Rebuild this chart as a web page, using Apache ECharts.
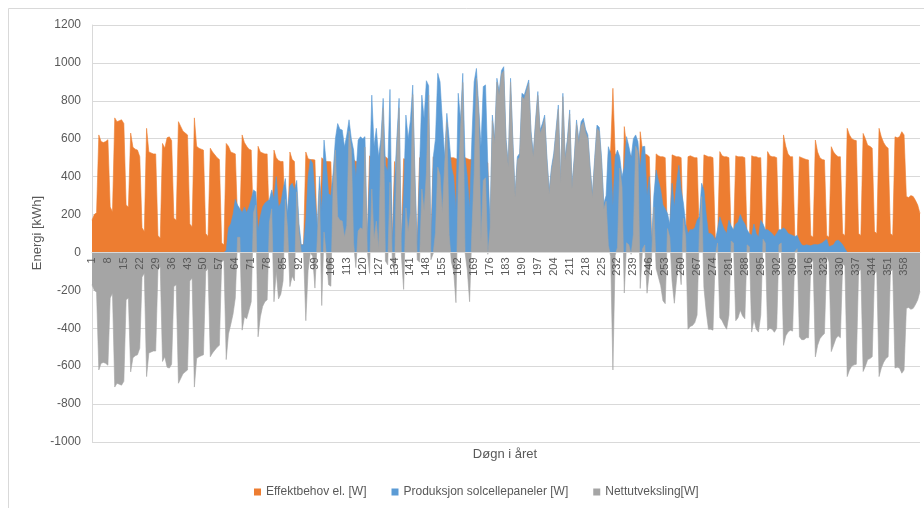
<!DOCTYPE html>
<html>
<head>
<meta charset="utf-8">
<script src="https://cdn.jsdelivr.net/npm/echarts@6/dist/echarts.min.js"></script>
<style>
  html, body { margin: 0; padding: 0; background: #ffffff; }
  #chart { width: 924px; height: 508px; }
</style>
</head>
<body>
<div id="chart"></div>
<script>
// Day of year, 1..365
const days = Array.from({ length: 365 }, (_, i) => String(i + 1));

// Daily electricity demand
const demand = [
  170, 200, 210, 620, 585, 580, 585, 595, 240, 215,
  710, 690, 695, 700, 680, 250, 240, 630, 555, 545,
  540, 505, 130, 110, 655, 530, 525, 520, 520, 90,
  75, 575, 550, 605, 610, 590, 180, 170, 690, 665,
  640, 630, 620, 150, 136, 710, 560, 550, 545, 540,
  100, 84, 550, 530, 515, 500, 490, 50, 40, 575,
  560, 530, 525, 520, 170, 150, 620, 580, 560, 545,
  540, 120, 70, 560, 530, 525, 520, 520, 120, 100,
  540, 500, 485, 480, 480, 110, 90, 530, 490, 480,
  60, 45, 40, 40, 530, 495, 490, 490, 488, 80,
  70, 500, 485, 480, 480, 478, 70, 60, 490, 480,
  480, 478, 478, 60, 55, 490, 480, 480, 480, 478,
  55, 50, 510, 495, 490, 490, 488, 55, 50, 505,
  495, 490, 60, 480, 50, 50, 60, 495, 490, 490,
  488, 50, 50, 60, 500, 495, 490, 490, 50, 48,
  505, 495, 495, 492, 490, 50, 48, 505, 500, 500,
  495, 490, 50, 48, 500, 495, 490, 490, 488, 50,
  48, 500, 495, 490, 470, 30, 30, 25, 20, 20,
  20, 22, 20, 18, 20, 22, 20, 18, 20, 20,
  22, 20, 18, 20, 20, 22, 20, 18, 20, 20,
  22, 20, 18, 20, 20, 22, 20, 18, 20, 20,
  22, 20, 18, 20, 20, 22, 20, 18, 20, 20,
  22, 20, 18, 20, 25, 30, 30, 520, 540, 866,
  520, 514, 60, 55, 664, 560, 520, 510, 505, 60,
  55, 637, 540, 520, 515, 505, 70, 60, 520, 510,
  505, 505, 500, 80, 70, 515, 510, 505, 505, 500,
  80, 70, 505, 510, 505, 500, 500, 80, 70, 515,
  510, 505, 505, 500, 80, 70, 532, 510, 505, 505,
  500, 80, 70, 510, 505, 505, 505, 500, 80, 70,
  510, 505, 505, 500, 500, 80, 70, 532, 510, 505,
  505, 500, 80, 70, 620, 560, 520, 505, 505, 80,
  70, 505, 500, 495, 490, 488, 90, 80, 593, 530,
  500, 490, 488, 90, 80, 558, 530, 515, 505, 505,
  100, 90, 655, 620, 600, 593, 590, 100, 90, 628,
  600, 565, 560, 550, 110, 100, 655, 610, 580, 560,
  550, 100, 90, 610, 605, 610, 637, 620, 295, 290,
  300, 295, 275, 250, 206
];

// Daily solar panel production
const production = [
  0, 0, 0, 0, 0, 0, 0, 0, 0, 0,
  0, 0, 0, 0, 0, 0, 0, 0, 0, 0,
  0, 0, 0, 0, 0, 0, 0, 0, 0, 0,
  0, 0, 0, 0, 0, 0, 0, 0, 0, 0,
  0, 0, 0, 0, 0, 0, 0, 0, 0, 0,
  0, 0, 0, 0, 0, 0, 0, 0, 0, 10,
  130, 150, 200, 280, 250, 230, 210, 240, 210, 240,
  280, 330, 320, 115, 190, 240, 260, 270, 280, 330,
  280, 400, 240, 260, 330, 390, 210, 350, 365, 330,
  380, 150, 40, 40, 170, 400, 490, 470, 300, 140,
  400, 220, 593, 470, 310, 300, 420, 600, 680, 650,
  646, 558, 620, 700, 600, 540, 400, 593, 610, 600,
  611, 66, 400, 830, 560, 655, 505, 600, 813, 460,
  430, 860, 30, 365, 600, 813, 48, 300, 725, 600,
  700, 883, 400, 20, 450, 830, 708, 906, 880, 10,
  500, 600, 945, 900, 700, 505, 734, 600, 450, 400,
  230, 840, 700, 945, 500, 400, 230, 600, 900, 971,
  770, 560, 875, 884, 460, 154, 725, 600, 919, 850,
  960, 980, 600, 470, 919, 600, 312, 505, 523, 840,
  830, 870, 910, 640, 523, 700, 849, 646, 680, 725,
  500, 330, 450, 523, 650, 778, 383, 840, 505, 600,
  752, 356, 500, 699, 594, 690, 708, 650, 620, 450,
  312, 500, 672, 660, 500, 259, 300, 558, 520, 246,
  505, 540, 505, 400, 450, 611, 560, 500, 600, 620,
  585, 447, 558, 560, 300, 400, 48, 300, 435, 380,
  330, 250, 230, 206, 150, 365, 242, 365, 460, 330,
  260, 150, 100, 120, 120, 130, 170, 188, 365, 330,
  200, 100, 100, 90, 65, 120, 188, 150, 120, 100,
  170, 140, 120, 150, 160, 200, 170, 150, 120, 100,
  90, 150, 100, 80, 170, 150, 120, 120, 110, 100,
  84, 100, 120, 120, 130, 120, 100, 95, 90, 84,
  90, 60, 40, 35, 40, 38, 35, 40, 42, 40,
  45, 50, 60, 70, 30, 35, 40, 60, 65, 55,
  40, 20, 0, 0, 0, 0, 0, 0, 0, 0,
  0, 0, 0, 0, 0, 0, 0, 0, 0, 0,
  0, 0, 0, 0, 0, 0, 0, 0, 0, 0,
  0, 0, 0, 0, 0
];

// Daily net grid exchange (production minus demand)
const netExchange = [
  -170, -200, -210, -620, -585, -580, -585, -595, -240, -215,
  -710, -690, -695, -700, -680, -250, -240, -630, -555, -545,
  -540, -505, -130, -110, -655, -530, -525, -520, -520, -90,
  -75, -575, -550, -605, -610, -590, -180, -170, -690, -665,
  -640, -630, -620, -150, -136, -710, -560, -550, -545, -540,
  -100, -84, -550, -530, -515, -500, -490, -50, -40, -565,
  -430, -380, -325, -240, 80, 80, -410, -340, -350, -305,
  -260, 210, 250, -445, -340, -285, -260, -250, 160, 230,
  -260, -100, -245, -220, -150, 280, 120, -180, -125, -150,
  320, 105, 0, 0, -360, -95, 0, -20, -188, 60,
  330, -280, 108, -10, -170, -178, 350, 540, 190, 170,
  166, 80, 142, 640, 545, 50, -80, 113, 130, 122,
  556, 16, -110, 335, 70, 165, 17, 545, 763, -45,
  -65, 370, -30, -115, 550, 763, -12, -195, 235, 110,
  212, 833, 350, -40, -50, 335, 218, 416, 830, -38,
  -5, 105, 450, 408, 210, 455, 686, 95, -50, -100,
  -265, 350, 650, 897, 0, -95, -260, 110, 412, 921,
  722, 60, 380, 394, -10, 124, 695, 575, 899, 830,
  940, 958, 580, 452, 899, 578, 292, 487, 503, 820,
  808, 850, 892, 620, 503, 678, 829, 628, 660, 705,
  478, 310, 432, 503, 630, 756, 363, 822, 485, 580,
  730, 336, 482, 679, 574, 668, 688, 632, 600, 430,
  290, 480, 654, 640, 475, 229, 270, 38, -20, -620,
  -15, 26, 445, 345, -214, 51, 40, -10, 95, 560,
  530, -190, 18, 40, -215, -105, -22, 240, -85, -130,
  -175, -255, -270, 126, 80, -150, -268, -140, -45, -170,
  180, 80, -405, -390, -385, -370, -330, 108, 295, -185,
  -310, -405, -405, -410, -15, 50, -344, -360, -385, -405,
  -330, 60, 50, -360, -345, -305, -335, -350, 40, 30,
  -420, -355, -405, -420, -330, 70, 50, -412, -400, -405,
  -421, -400, 40, 50, -490, -440, -420, -410, -415, 4,
  20, -445, -460, -460, -450, -450, -55, -40, -551, -490,
  -455, -440, -428, -20, -50, -523, -490, -455, -440, -450,
  -60, -70, -655, -620, -600, -593, -590, -100, -90, -628,
  -600, -565, -560, -550, -110, -100, -655, -610, -580, -560,
  -550, -100, -90, -610, -605, -610, -637, -620, -295, -290,
  -300, -295, -275, -250, -206
];

// Value axis ticks
const yMin = -1000;
const yMax = 1200;
const yStep = 200;

const seriesNames = ['Effektbehov el. [W]', 'Produksjon solcellepaneler [W]', 'Nettutveksling[W]'];
const seriesColors = ['#ed7d31', '#5b9bd5', '#a5a5a5'];
const seriesData = [demand, production, netExchange];

const FONT = '"Liberation Sans", Arial, sans-serif';
const TEXT = '#595959';
const GRID = '#d9d9d9';

// Plot rectangle
const GRID_TOP = 25;
const GRID_BOTTOM = 66;
const CHART_H = 508;
const plotH = CHART_H - GRID_TOP - GRID_BOTTOM;
// distance from the plot bottom up to the zero line, so the category axis sits on 0
const zeroLift = plotH * (0 - yMin) / (yMax - yMin);

const chart = echarts.init(document.getElementById('chart'), null, { renderer: 'canvas' });

chart.setOption({
  animation: false,
  backgroundColor: '#ffffff',
  textStyle: { fontFamily: FONT },
  grid: { left: 92, right: 4, top: GRID_TOP, bottom: GRID_BOTTOM, containLabel: false },
  legend: {
    data: seriesNames,
    left: 254,
    top: 486,
    padding: 0,
    icon: 'rect',
    itemWidth: 7,
    itemHeight: 7,
    itemGap: 25,
    textStyle: { fontFamily: FONT, fontSize: 12, color: TEXT }
  },
  xAxis: {
    type: 'category',
    data: days,
    boundaryGap: false,
    position: 'bottom',
    offset: -zeroLift,
    z: 10,
    axisLine: { onZero: false, lineStyle: { color: GRID, width: 1 } },
    axisTick: { show: false },
    axisLabel: {
      interval: 6, rotate: 90, fontSize: 11, color: TEXT, margin: 5, fontFamily: FONT,
      showMinLabel: true, showMaxLabel: false
    },
    splitLine: { show: false }
  },
  yAxis: {
    type: 'value',
    min: yMin,
    max: yMax,
    interval: yStep,
    axisLine: { show: true, lineStyle: { color: GRID } },
    axisTick: { show: false },
    axisLabel: { fontSize: 12, color: TEXT, margin: 11, fontFamily: FONT, formatter: (v) => String(v) },
    splitLine: { show: true, lineStyle: { color: GRID, width: 1 } }
  },
  series: seriesNames.map((name, i) => ({
    name: name,
    type: 'line',
    data: seriesData[i],
    symbol: 'none',
    smooth: false,
    itemStyle: { color: seriesColors[i] },
    lineStyle: { width: 0.6, color: seriesColors[i] },
    areaStyle: { color: seriesColors[i], opacity: 1 },
    z: 2 + i
  })),
  graphic: [
    {
      type: 'polyline',
      silent: true,
      shape: { points: [[8.5, 508], [8.5, 8.5], [924, 8.5]] },
      style: { stroke: GRID, lineWidth: 1, fill: null }
    },
    {
      type: 'text',
      silent: true,
      x: 37,
      y: 233,
      rotation: Math.PI / 2,
      style: { text: 'Energi [kWh]', fontFamily: FONT, fontSize: 13, fill: TEXT, align: 'center', verticalAlign: 'middle' }
    },
    {
      type: 'text',
      silent: true,
      x: 505,
      y: 454,
      style: { text: 'Døgn i året', fontFamily: FONT, fontSize: 13, fill: TEXT, align: 'center', verticalAlign: 'middle' }
    }
  ]
});
</script>
</body>
</html>
